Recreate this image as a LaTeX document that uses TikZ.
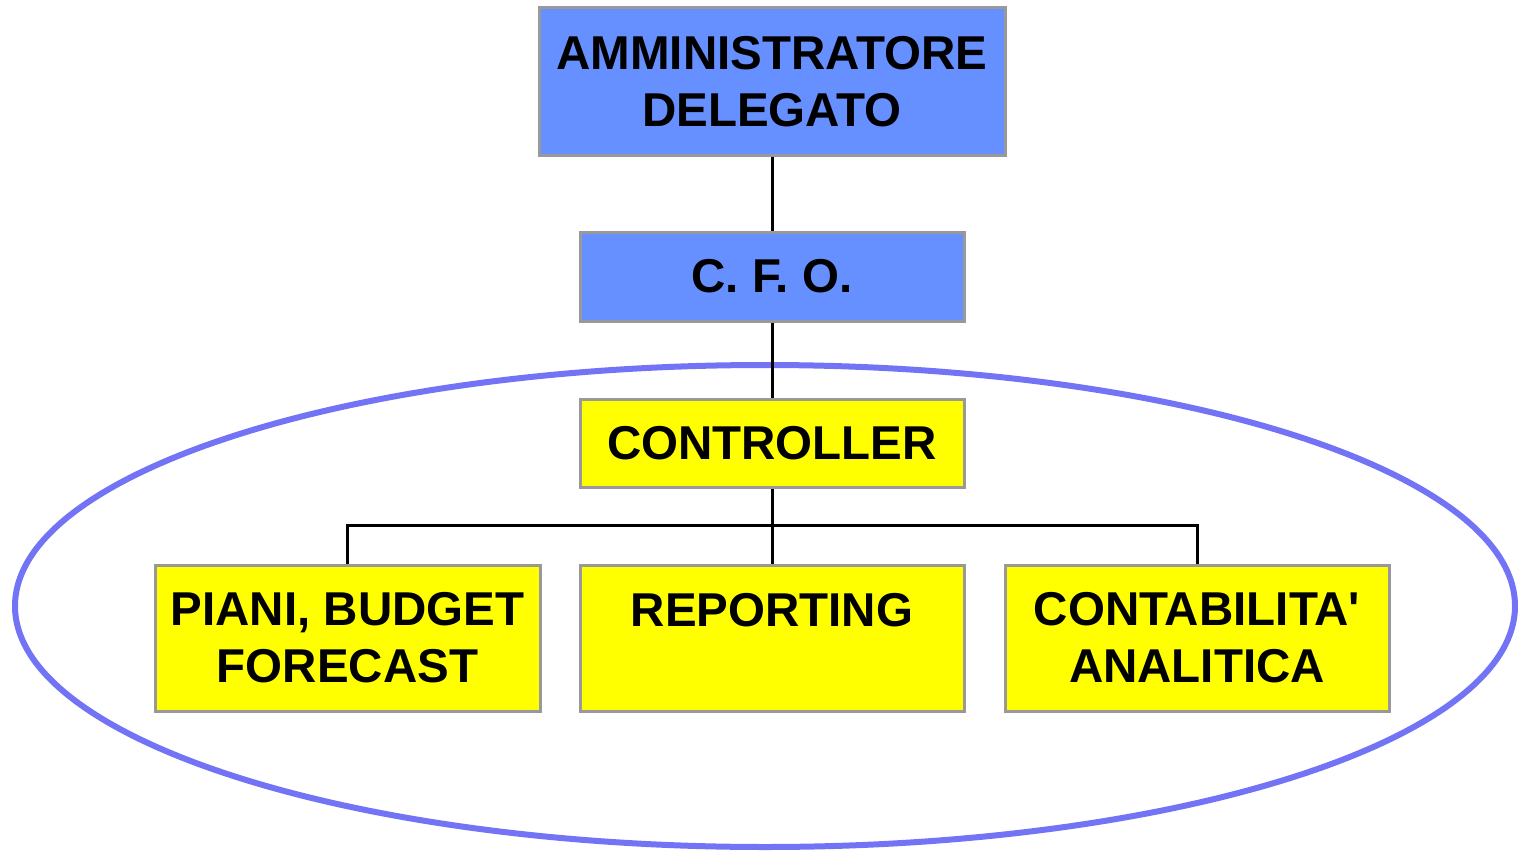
\documentclass[tikz,border=0pt]{standalone}
\usepackage{fontspec}
\setmainfont{Liberation Sans}
\newfontfamily\lsans{Liberation Sans}
\definecolor{boxblue}{HTML}{6690FF}
\definecolor{boxyellow}{HTML}{FFFF00}
\definecolor{boxborder}{HTML}{999999}
\definecolor{ellblue}{HTML}{7373F5}
\tikzset{
  orgbox/.style={draw=boxborder, line width=3pt, inner sep=0pt, align=center,
    font=\lsans\bfseries\fontsize{47.5}{57}\selectfont, text=black},
  bluebox/.style={orgbox, fill=boxblue},
  yellowbox/.style={orgbox, fill=boxyellow},
  conn/.style={draw=black, line width=3pt},
  ell/.style={draw=ellblue, line width=6pt}
}
\begin{document}
\begin{tikzpicture}[x=1pt, y=-1pt]
\useasboundingbox (0,0) rectangle (1518,851);
\draw[ell] (765,606) ellipse [x radius=750pt, y radius=241pt];
\node[bluebox, minimum width=466pt, minimum height=147pt] (ad) at (772,81.5) {AMMINISTRATORE\\DELEGATO};
\node[bluebox, minimum width=384pt, minimum height=89pt] (cfo) at (772,276.5) {C. F. O.};
\node[yellowbox, minimum width=384pt, minimum height=88pt] (ctrl) at (772,443) {CONTROLLER};
\node[yellowbox, minimum width=385pt, minimum height=146pt] (piani) at (347.5,638) {PIANI, BUDGET\\FORECAST};
\node[yellowbox, minimum width=384pt, minimum height=146pt] (rep) at (772,638) {REPORTING\\\phantom{A}};
\node[yellowbox, minimum width=384pt, minimum height=146pt] (cont) at (1197,638) {CONTABILITA'\\ANALITICA};
\coordinate (bus) at (772,525);
\draw[conn] (ad.south) -- (cfo.north);
\draw[conn] (cfo.south) -- (ctrl.north);
\draw[conn] (ctrl.south) -- (rep.north);
\draw[conn] (piani.north) |- (bus) -| (cont.north);
\end{tikzpicture}
\end{document}
